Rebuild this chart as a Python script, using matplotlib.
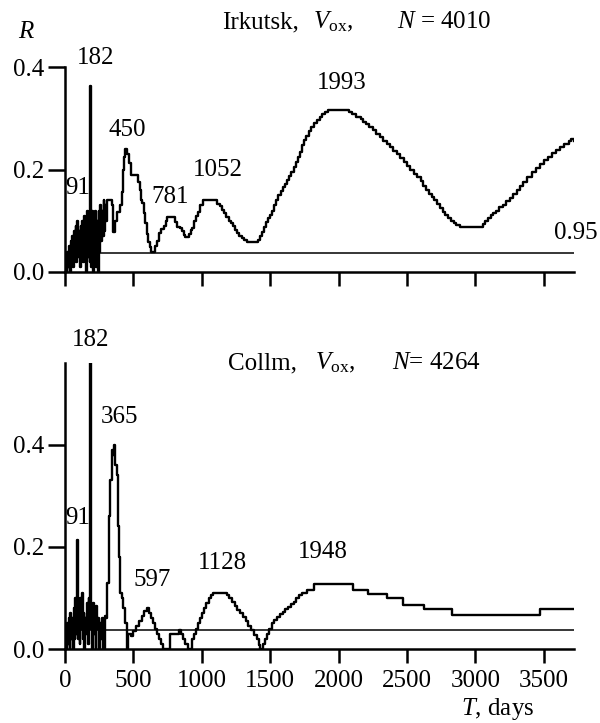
import matplotlib
matplotlib.use("Agg")
import matplotlib.pyplot as plt

plt.rcParams['font.family'] = ['Liberation Serif']
plt.rcParams['mathtext.fontset'] = 'custom'
plt.rcParams['mathtext.rm'] = 'Liberation Serif'
plt.rcParams['mathtext.it'] = 'Liberation Serif:italic'

FS = 18

# Irkutsk, Vox, N = 4010  (T in days, R)
irk_T = [0, 6, 12, 18, 24, 30, 36, 42, 48, 54, 60, 66, 72, 78, 84, 90, 96, 102, 108, 114,
         120, 126, 132, 138, 144, 150, 156, 162, 168, 174, 180, 182, 188, 192, 198, 204, 210,
         216, 222, 228, 234, 240, 246, 252, 258, 264, 270, 276, 282, 288, 294, 300,
         310, 340, 351, 365, 380, 400, 417, 425, 432, 440, 455, 468, 480, 534, 545, 555, 564,
         575, 586, 597, 608, 620, 630, 660, 675, 690, 705, 720, 735, 747, 805, 820, 840, 856,
         870, 880, 905, 918, 930, 945, 960, 974, 990, 1010, 1112, 1130, 1145, 1165, 1180,
         1195, 1210, 1225, 1240, 1260, 1275, 1290, 1305, 1332, 1413, 1425, 1440, 1455, 1470,
         1485, 1500, 1515, 1530, 1545, 1560, 1575, 1590, 1605, 1620, 1640, 1655, 1670, 1685,
         1700, 1715, 1730, 1745, 1760, 1780, 1800, 1820, 1840, 1860, 1880, 1900, 1925, 2079,
         2100, 2130, 2160, 2180, 2200, 2225, 2250, 2275, 2300, 2325, 2350, 2375, 2400, 2425,
         2450, 2475, 2500, 2525, 2550, 2575, 2600, 2620, 2640, 2660, 2680, 2700, 2720, 2740,
         2760, 2780, 2800, 2820, 2840, 2860, 2884, 3052, 3070, 3090, 3110, 3130, 3150, 3175,
         3200, 3225, 3250, 3275, 3300, 3325, 3350, 3380, 3410, 3440, 3470, 3500, 3530, 3560,
         3590, 3620, 3650, 3680, 3700, 3720]
irk_R = [0.0, 0.03, 0.0, 0.04, 0.01, 0.05, 0.0, 0.06, 0.02, 0.07, 0.01, 0.08, 0.03, 0.09, 0.02,
         0.10, 0.03, 0.08, 0.01, 0.09, 0.04, 0.10, 0.02, 0.11, 0.05, 0.09, 0.0, 0.12, 0.03,
         0.11, 0.02, 0.363, 0.12, 0.01, 0.12, 0.0, 0.11, 0.03, 0.12, 0.01, 0.10, 0.0, 0.12,
         0.04, 0.13, 0.06, 0.12, 0.07, 0.14, 0.08, 0.13, 0.10,
         0.14, 0.13, 0.078, 0.10, 0.117, 0.13, 0.156, 0.20, 0.225, 0.24, 0.23, 0.213, 0.19,
         0.175, 0.16, 0.14, 0.135, 0.115, 0.095, 0.075, 0.058, 0.048, 0.04, 0.05, 0.06, 0.076,
         0.083, 0.09, 0.10, 0.107, 0.098, 0.088, 0.085, 0.08, 0.072, 0.068, 0.075, 0.082,
         0.086, 0.10, 0.11, 0.117, 0.13, 0.14, 0.132, 0.128, 0.121, 0.115, 0.108, 0.10, 0.095,
         0.09, 0.082, 0.076, 0.07, 0.066, 0.062, 0.059, 0.063, 0.07, 0.078, 0.088, 0.098,
         0.105, 0.112, 0.12, 0.13, 0.14, 0.15, 0.158, 0.165, 0.172, 0.18, 0.188, 0.196, 0.205,
         0.215, 0.225, 0.235, 0.248, 0.258, 0.265, 0.275, 0.283, 0.29, 0.297, 0.303, 0.308,
         0.312, 0.316, 0.312, 0.308, 0.303, 0.298, 0.293, 0.288, 0.283, 0.277, 0.27, 0.263,
         0.256, 0.25, 0.244, 0.237, 0.23, 0.222, 0.214, 0.207, 0.20, 0.192, 0.185, 0.177,
         0.168, 0.16, 0.153, 0.146, 0.14, 0.132, 0.125, 0.118, 0.111, 0.105, 0.10, 0.095,
         0.091, 0.088, 0.094, 0.10, 0.106, 0.111, 0.116, 0.12, 0.126, 0.131, 0.138, 0.145,
         0.152, 0.16, 0.167, 0.175, 0.185, 0.195, 0.203, 0.21, 0.218, 0.225, 0.232, 0.238,
         0.244, 0.25, 0.255, 0.26, 0.256]

# Collm, Vox, N = 4264
col_T = [0, 5, 10, 16, 22, 28, 34, 40, 46, 52, 58, 64, 70, 76, 82, 91, 95, 100, 106, 112, 118,
         124, 130, 136, 142, 148, 154, 160, 166, 172, 178, 182, 190, 194, 200, 206, 212, 218,
         224, 230, 236, 242, 248, 254, 262, 270, 280, 290, 300, 310, 320, 330, 340, 350, 360,
         368, 378, 385, 395, 405, 415, 425, 440, 450, 460, 480, 500, 520, 540, 560, 580, 600,
         615, 630, 645, 660, 675, 690, 705, 718, 765, 830, 845, 860, 880, 900, 925, 940, 955,
         970, 985, 1000, 1015, 1030, 1050, 1070, 1084, 1186, 1200, 1220, 1240, 1260, 1280,
         1300, 1320, 1340, 1360, 1380, 1400, 1415, 1428, 1445, 1460, 1475, 1490, 1510, 1530,
         1550, 1570, 1590, 1610, 1630, 1650, 1670, 1690, 1710, 1735, 1771, 1823, 2108, 2218,
         2350, 2467, 2621, 2826, 3470, 3720]
col_R = [0.0, 0.04, 0.0, 0.05, 0.01, 0.06, 0.0, 0.07, 0.02, 0.06, 0.0, 0.08, 0.02, 0.10, 0.03,
         0.214, 0.02, 0.09, 0.01, 0.10, 0.04, 0.11, 0.02, 0.07, 0.0, 0.06, 0.03, 0.09, 0.01,
         0.10, 0.05, 0.56, 0.04, 0.08, 0.0, 0.09, 0.03, 0.07, 0.0, 0.085, 0.04, 0.06, 0.0,
         0.05, 0.02, 0.06, 0.0, 0.065, 0.06, 0.13, 0.26, 0.33, 0.39, 0.38, 0.40, 0.36, 0.34,
         0.24, 0.18, 0.11, 0.10, 0.08, 0.05, 0.0, 0.03, 0.025, 0.035, 0.045, 0.055, 0.065,
         0.075, 0.08, 0.07, 0.06, 0.05, 0.04, 0.03, 0.02, 0.01, 0.0, 0.03, 0.037, 0.03, 0.02,
         0.01, 0.0, 0.02, 0.03, 0.04, 0.05, 0.06, 0.07, 0.08, 0.09, 0.10, 0.105, 0.11, 0.105,
         0.10, 0.093, 0.085, 0.077, 0.07, 0.062, 0.054, 0.045, 0.037, 0.028, 0.02, 0.008, 0.0,
         0.01, 0.02, 0.03, 0.04, 0.05, 0.057, 0.063, 0.068, 0.073, 0.078, 0.083, 0.088, 0.092,
         0.10, 0.106, 0.11, 0.116, 0.127, 0.116, 0.108, 0.10, 0.086, 0.078, 0.067, 0.078, 0.078]

level = 0.037  # 0.95 confidence level
x_max = 3720
x_ticks = [0, 500, 1000, 1500, 2000, 2500, 3000, 3500]

irk_labels = [("182", 227, 0.418), ("91", 95, 0.164), ("450", 454, 0.277), ("781", 769, 0.146),
              ("1052", 1120, 0.199), ("1993", 2020, 0.369), ("0.95", 3733, 0.076)]
col_labels = [("182", 190, 0.606), ("365", 395, 0.455), ("91", 95, 0.257), ("597", 637, 0.135),
              ("1128", 1149, 0.169), ("1948", 1881, 0.190)]


def style_axis(ax, ymax, show_xlabels):
    ax.set_xlim(0, x_max)
    ax.set_ylim(0, ymax)
    for s in ['top', 'right']:
        ax.spines[s].set_visible(False)
    for s in ['left', 'bottom']:
        ax.spines[s].set_linewidth(1.8)
    ax.set_xticks(x_ticks)
    ax.set_yticks([0.0, 0.2, 0.4])
    ax.set_yticklabels(['0.0', '0.2', '0.4'])
    ax.tick_params(axis='y', direction='out', length=12, width=1.8, pad=3, labelsize=FS)
    ax.tick_params(axis='x', direction='out', length=10, width=1.8, pad=5, labelsize=FS)
    if not show_xlabels:
        ax.set_xticklabels([])


fig = plt.figure(figsize=(6, 7.23), dpi=100)

W, H = 600.0, 723.0
ax1 = fig.add_axes([65 / W, 1 - 272 / H, (574 - 65) / W, (272 - 67) / H])
ax1.plot(irk_T, irk_R, color='black', lw=1.7, drawstyle='steps-post')
ax1.hlines(level, 0, x_max, color='black', lw=1.1)
style_axis(ax1, 0.4, False)
for txt, tx, ty in irk_labels:
    ax1.text(tx, ty, txt, ha='center', va='center', fontsize=FS, clip_on=False)

ax2 = fig.add_axes([65 / W, 1 - 649 / H, (574 - 65) / W, (649 - 363) / H])
ax2.plot(col_T, col_R, color='black', lw=1.7, drawstyle='steps-post')
ax2.hlines(level, 0, x_max, color='black', lw=1.1)
style_axis(ax2, 0.56, True)
for txt, tx, ty in col_labels:
    ax2.text(tx, ty, txt, ha='center', va='center', fontsize=FS, clip_on=False)

# headers
fig.text(222 / W, 1 - 22 / H, "Irkutsk,", ha='left', va='center', fontsize=FS)
fig.text(313 / W, 1 - 22 / H, r"$V_{\rm ox}$,", ha='left', va='center', fontsize=FS)
fig.text(397 / W, 1 - 22 / H, r"$N$ = 4010", ha='left', va='center', fontsize=FS)
fig.text(228 / W, 1 - 363 / H, "Collm,", ha='left', va='center', fontsize=FS)
fig.text(315 / W, 1 - 363 / H, r"$V_{\rm ox}$,", ha='left', va='center', fontsize=FS)
fig.text(392 / W, 1 - 363 / H, r"$N$= 4264", ha='left', va='center', fontsize=FS)

fig.text(26 / W, 1 - 32 / H, r"$R$", ha='center', va='center', fontsize=FS)
fig.text(498 / W, 1 - 709 / H, r"$T$, days", ha='center', va='center', fontsize=FS)

fig.savefig("out.png", dpi=100)
